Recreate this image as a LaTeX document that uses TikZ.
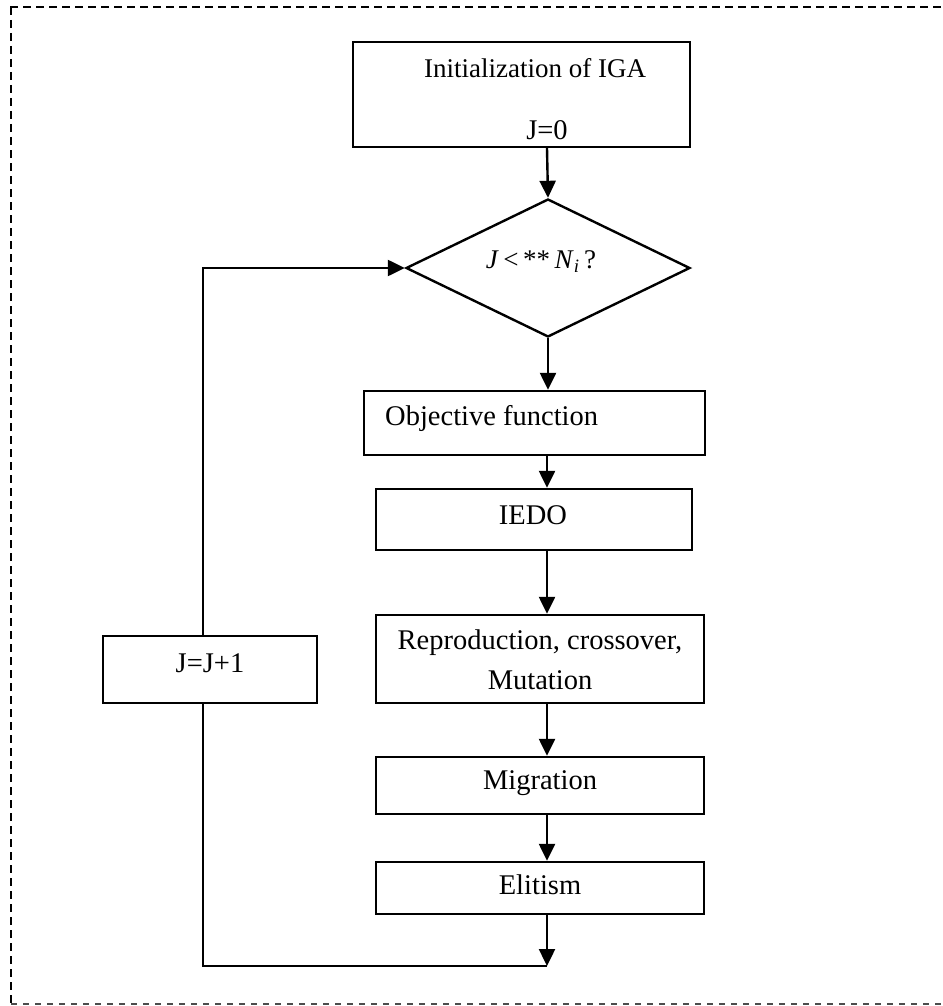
\documentclass[tikz,border=0pt]{standalone}
\usepackage{fontspec}
\setmainfont{Liberation Serif}
\usetikzlibrary{shapes.geometric,arrows.meta}
\begin{document}
\begin{tikzpicture}[x=1pt,y=-1pt,
  box/.style={draw, line width=2.4pt, rectangle, inner sep=0pt},
  txt/.style={font=\fontsize{28.5}{32}\selectfont, inner sep=0pt},
  flow/.style={line width=2.4pt, -{Triangle[length=17pt,width=16pt]}},
  link/.style={line width=2.4pt},
  frameline/.style={dash pattern=on 8pt off 5pt}]
\useasboundingbox (0,0) rectangle (942,1006);

% dashed frame
\draw[frameline, line width=2.4pt] (10,7) -- (942,7);
\draw[frameline, line width=2pt] (11,7) -- (11,1004);
\draw[line width=1.4pt, black!70, dash pattern=on 6pt off 6pt] (11,1004) -- (942,1004);

% guide coordinates for the main flow and the loop
\coordinate (axis) at (547,0);
\coordinate (loopx) at (203,0);
\coordinate (ret) at (547,966);

% blocks
\node[box, minimum width=337pt, minimum height=105pt] (init) at (521.5,94.5) {};
\node[txt, font=\fontsize{27}{30}\selectfont] (initA) at (535,68) {Initialization of IGA};
\node[txt] (initB) at (547,130) {J=0};

\node[draw, line width=2.4pt, shape=diamond, inner sep=0pt,
      minimum width=284pt, minimum height=138pt] (dia) at (548,268) {};
\node[txt, font=\fontsize{27}{30}\selectfont] (cond) at (541,262)
  {\textit{J}\,<\,**\,\textit{N}\textsubscript{\textit{i}}\,?};

\node[box, minimum width=341pt, minimum height=64pt] (obj) at (534.5,423) {};
\node[txt, anchor=west] (objT) at (385,418) {Objective function};

\node[box, minimum width=316pt, minimum height=61pt] (iedo) at (534,519.5) {};
\node[txt] (iedoT) at (533,515) {IEDO};

\node[box, minimum width=328pt, minimum height=88pt] (repro) at (540,659) {};
\node[txt] (reproA) at (540,643) {Reproduction, crossover,};
\node[txt] (reproB) at (540,680) {Mutation};

\node[box, minimum width=328pt, minimum height=57pt] (migr) at (540,785.5) {};
\node[txt] (migrT) at (540,783) {Migration};

\node[box, minimum width=328pt, minimum height=52pt] (elit) at (540,888) {};
\node[txt] (elitT) at (540,885) {Elitism};

\node[box, minimum width=214pt, minimum height=67pt] (jj) at (210,669.5) {};
\node[txt] (jjT) at (210,663) {J=J+1};

% connectors
\draw[flow] (init.south -| axis) -- (dia.north);
\draw[flow] (dia.south) -- (obj.north -| dia.south);
\draw[flow] (obj.south -| axis) -- (iedo.north -| axis);
\draw[flow] (iedo.south -| axis) -- (repro.north -| axis);
\draw[flow] (repro.south -| axis) -- (migr.north -| axis);
\draw[flow] (migr.south -| axis) -- (elit.north -| axis);
\draw[flow] (elit.south -| axis) -- (ret);
\draw[link] (ret) -- (ret -| loopx) -- (jj.south -| loopx);
\draw[flow] (jj.north -| loopx) |- (dia.west);
\end{tikzpicture}
\end{document}
